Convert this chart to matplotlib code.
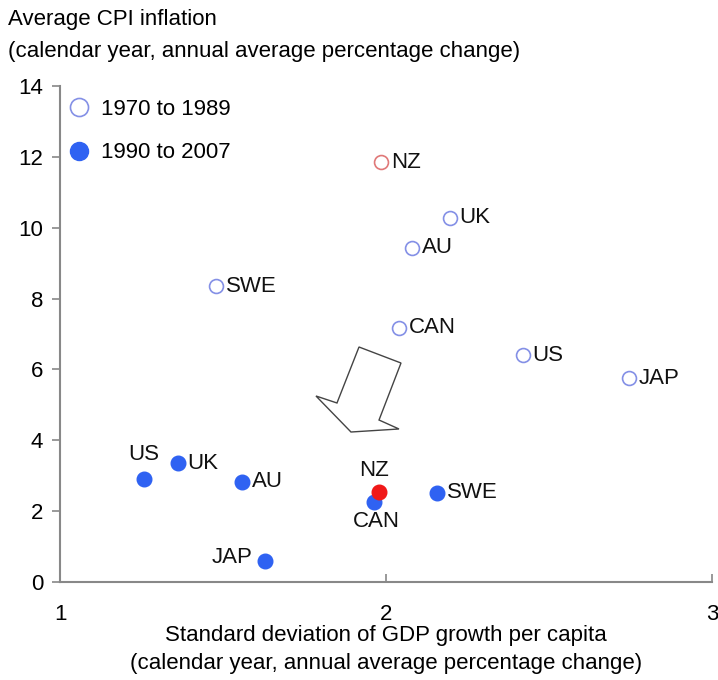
import matplotlib
matplotlib.use("Agg")
import matplotlib.pyplot as plt
from matplotlib.patches import Polygon
from matplotlib.lines import Line2D

plt.rcParams['font.family'] = ['Liberation Sans', 'DejaVu Sans']

countries_7089 = ["NZ", "UK", "AU", "SWE", "CAN", "US", "JAP"]
gdp_sd_7089 = [1.985, 2.196, 2.08, 1.48, 2.04, 2.42, 2.745]
cpi_7089 = [11.85, 10.28, 9.43, 8.35, 7.18, 6.4, 5.75]

countries_9007 = ["US", "UK", "AU", "NZ", "CAN", "SWE", "JAP"]
gdp_sd_9007 = [1.258, 1.362, 1.558, 1.98, 1.963, 2.156, 1.63]
cpi_9007 = [2.92, 3.35, 2.83, 2.55, 2.27, 2.52, 0.6]

blue = "#2F62F2"
blue_edge = "#8490E6"
red = "#F01818"
red_edge = "#E07878"
FS = 16

fig = plt.figure(figsize=(7.18, 6.8), dpi=100)
ax = fig.add_axes([60/718, 98/680, 652/718, 496/680])
ax.set_xlim(1, 3)
ax.set_ylim(0, 14)
ax.set_xticks([1, 2, 3])
ax.set_yticks(range(0, 15, 2))
for s in ["top", "right"]:
    ax.spines[s].set_visible(False)
for s in ["left", "bottom"]:
    ax.spines[s].set_color("#888888")
    ax.spines[s].set_linewidth(1.5)
ax.tick_params(axis="y", direction="out", length=6, width=1.2, color="#888888",
               labelsize=FS, pad=6)
ax.tick_params(axis="x", direction="in", length=6, width=1.2, color="#888888",
               labelsize=FS, pad=16)

# open circles 1970-1989
for c, x, y in zip(countries_7089, gdp_sd_7089, cpi_7089):
    ec = red_edge if c == "NZ" else blue_edge
    ax.plot(x, y, marker="o", ms=10, mfc="white", mec=ec, mew=1.2, ls="none", zorder=3)
    ax.annotate(c, (x, y), xytext=(7, 0), textcoords="offset points",
                ha="left", va="center", fontsize=FS, color="#111111")

# filled circles 1990-2007
offsets = {"US": (0, 10, "center", "bottom"), "UK": (7, 0, "left", "center"),
           "AU": (7, 0, "left", "center"), "NZ": (-4, 8, "center", "bottom"),
           "CAN": (2, -7, "center", "top"), "SWE": (7, 0, "left", "center"),
           "JAP": (-9, 2, "right", "center")}
for c, x, y in zip(countries_9007, gdp_sd_9007, cpi_9007):
    fc = red if c == "NZ" else blue
    ax.plot(x, y, marker="o", ms=10.5, mfc=fc, mec=fc, ls="none",
            zorder=4 if c == "NZ" else 3)
    dx, dy, ha, va = offsets[c]
    ax.annotate(c, (x, y), xytext=(dx, dy), textcoords="offset points",
                ha=ha, va=va, fontsize=FS, color="#111111")

# block arrow (annotation shape, axes fraction)
arrow = Polygon([(0.4586, 0.4738), (0.5230, 0.4415), (0.4893, 0.3266),
                 (0.5199, 0.3085), (0.4463, 0.3024), (0.3926, 0.3750),
                 (0.4248, 0.3609)], closed=True, transform=ax.transAxes,
                fill=True, facecolor="white", edgecolor="#444444", lw=1.0, zorder=2)
ax.add_patch(arrow)

# legend
handles = [Line2D([], [], marker="o", ls="none", ms=13, mfc="white", mec=blue_edge, mew=1.2),
           Line2D([], [], marker="o", ls="none", ms=13, mfc=blue, mec=blue)]
ax.legend(handles, ["1970 to 1989", "1990 to 2007"], loc="upper left",
          bbox_to_anchor=(-0.015, 1.005), frameon=False, fontsize=FS,
          handletextpad=0.4, labelspacing=1.0, handlelength=1.2, borderaxespad=0.3)

fig.text(8/718, 1 - 20/680, "Average CPI inflation", fontsize=FS, va="center", ha="left")
fig.text(8/718, 1 - 52/680, "(calendar year, annual average percentage change)",
         fontsize=FS, va="center", ha="left")
fig.text(386/718, 1 - 635/680, "Standard deviation of GDP growth per capita",
         fontsize=FS, va="center", ha="center")
fig.text(386/718, 1 - 663/680, "(calendar year, annual average percentage change)",
         fontsize=FS, va="center", ha="center")

fig.savefig("out.png", dpi=100)
